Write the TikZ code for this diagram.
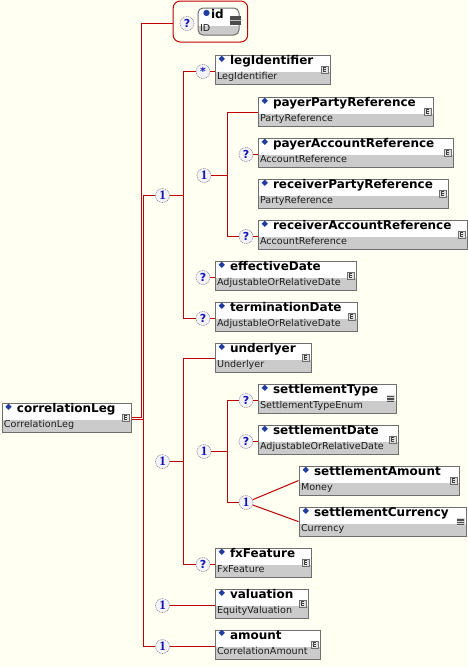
\documentclass[tikz,border=0pt]{standalone}
\usepackage{fontspec}
\setmainfont{DejaVu Sans}
\newfontfamily\occserif{Liberation Serif}
\usepackage{tikz}
\usetikzlibrary{shapes.multipart,fit,calc}
\definecolor{paper}{HTML}{FFFFF2}
\definecolor{wirered}{HTML}{C00000}
\definecolor{boxline}{HTML}{6F6F6F}
\definecolor{boxgray}{HTML}{CBCBCB}
\definecolor{diablue}{HTML}{1F3C9E}
\definecolor{occblue}{HTML}{1414B4}
\definecolor{occline}{HTML}{8A8A9A}
\definecolor{occfill}{HTML}{F4F4F8}
\definecolor{typetext}{HTML}{1E1E1E}
\setlength{\parindent}{0pt}

\newcommand{\tagname}[1]{\fontsize{12}{14}\selectfont\bfseries\rule[-7pt]{0pt}{13pt}%
  \makebox[13pt][l]{\hspace{1.5pt}\raisebox{3.5pt}{\fontsize{8.5}{8.5}\selectfont\mdseries\textcolor{diablue}{◆}}}#1}
\newcommand{\tagtype}[1]{\fontsize{9.6}{11}\selectfont\mdseries\color{typetext}\rule[-4pt]{0pt}{9pt}#1}

\tikzset{
  el_box/.style={rectangle split, rectangle split parts=2,
    rectangle split draw splits=false, rectangle split part fill={white,boxgray},
    draw=boxline, line width=1pt, inner xsep=2pt, inner ysep=0pt,
    text width=#1, align=left, anchor=north west},
  id_box/.style={rectangle split, rectangle split parts=2,
    rectangle split draw splits=false, draw=boxline, fill=boxgray,
    rounded corners=5pt, line width=1pt, inner xsep=2pt, inner ysep=0pt,
    text width=37pt, align=left, anchor=north west,
    path picture={\fill[white,sharp corners] (path picture bounding box.north west)
      rectangle ([yshift=-18pt]path picture bounding box.north east);}},
  grp_box/.style={draw=wirered, line width=1pt, rounded corners=7pt, inner sep=6.5pt},
  occ/.style={circle, draw=occline, fill=occfill, dash pattern=on 1pt off 0.8pt,
    line width=0.6pt, minimum size=14pt, inner sep=0pt, text=occblue,
    font=\fontsize{11}{11}\selectfont\bfseries},
  occ_one/.style={occ, font=\occserif\fontsize{13}{13}\selectfont\bfseries},
  ico_e/.style={draw=boxline, fill=boxgray!60, minimum size=7.5pt, inner sep=0pt,
    line width=0.5pt,
    path picture={\draw[line width=0.5pt,black!75]
      ($(path picture bounding box.center)+(1.6pt,2pt)$) -- ++(-3pt,0) -- ++(0,-4pt) -- ++(3pt,0)
      ($(path picture bounding box.center)+(-1.4pt,0)$) -- ++(2.4pt,0);}},
  ico_enum/.style={fill=boxgray!80, minimum width=8pt, minimum height=8pt, inner sep=0pt,
    path picture={\foreach \k in {-2.6,-0.9,0.8,2.5}
      \draw[line width=0.8pt,black!70] ($(path picture bounding box.center)+(-3.5pt,\k pt)$) -- ++(7pt,0);}},
  ico_eq/.style={fill=black!70, minimum width=11pt, minimum height=9pt, inner sep=0pt,
    path picture={\draw[line width=1.2pt,black!25] (path picture bounding box.west) -- (path picture bounding box.east);}},
  wire/.style={draw=wirered, line width=1pt},
}

\begin{document}
\begin{tikzpicture}[x=1pt, y=-1pt]
  \fill[paper] (0,0) rectangle (467,667);
  \useasboundingbox (0,0) rectangle (467,667);

  % element boxes
  \node[el_box=125pt] (root) at (1.5,402.5) {\tagname{correlationLeg}\nodepart{two}\tagtype{CorrelationLeg}};
  \node[id_box] (id_el) at (197.5,7.5) {\fontsize{12}{14}\selectfont\bfseries\rule[-4pt]{0pt}{14pt}%
    \makebox[11pt][l]{\hspace{3pt}\raisebox{3pt}{\fontsize{8}{8}\selectfont\mdseries\textcolor{diablue}{●}}}id%
    \nodepart{two}\fontsize{9.6}{11}\selectfont\color{typetext}\rule[-3pt]{0pt}{11pt}ID};
  \node[el_box=111pt] (leg_id) at (214.5,54.5) {\tagname{legIdentifier}\nodepart{two}\tagtype{LegIdentifier}};
  \node[el_box=171pt] (pay_party) at (257.5,96.5) {\tagname{payerPartyReference}\nodepart{two}\tagtype{PartyReference}};
  \node[el_box=191pt] (pay_acct) at (257.5,137.5) {\tagname{payerAccountReference}\nodepart{two}\tagtype{AccountReference}};
  \node[el_box=186pt] (rec_party) at (257.5,178.5) {\tagname{receiverPartyReference}\nodepart{two}\tagtype{PartyReference}};
  \node[el_box=205pt] (rec_acct) at (257.5,219.5) {\tagname{receiverAccountReference}\nodepart{two}\tagtype{AccountReference}};
  \node[el_box=137pt] (eff_date) at (214.5,260.5) {\tagname{effectiveDate}\nodepart{two}\tagtype{AdjustableOrRelativeDate}};
  \node[el_box=138pt] (term_date) at (214.5,301.5) {\tagname{terminationDate}\nodepart{two}\tagtype{AdjustableOrRelativeDate}};
  \node[el_box=92pt] (underlyer) at (214.5,342.5) {\tagname{underlyer}\nodepart{two}\tagtype{Underlyer}};
  \node[el_box=134pt] (set_type) at (257.5,383.5) {\tagname{settlementType}\nodepart{two}\tagtype{SettlementTypeEnum}};
  \node[el_box=136pt] (set_date) at (257.5,424.5) {\tagname{settlementDate}\nodepart{two}\tagtype{AdjustableOrRelativeDate}};
  \node[el_box=156pt] (set_amt) at (298.5,465.5) {\tagname{settlementAmount}\nodepart{two}\tagtype{Money}};
  \node[el_box=163pt] (set_cur) at (298.5,506.5) {\tagname{settlementCurrency}\nodepart{two}\tagtype{Currency}};
  \node[el_box=92pt] (fx_feat) at (214.5,547.5) {\tagname{fxFeature}\nodepart{two}\tagtype{FxFeature}};
  \node[el_box=89pt] (valuation) at (214.5,588.5) {\tagname{valuation}\nodepart{two}\tagtype{EquityValuation}};
  \node[el_box=101pt] (amount) at (214.5,629.5) {\tagname{amount}\nodepart{two}\tagtype{CorrelationAmount}};

  % type icons
  \foreach \b in {root,leg_id,pay_party,pay_acct,rec_party,rec_acct,eff_date,term_date,
                  underlyer,set_date,set_amt,fx_feat,valuation,amount}
    \node[ico_e] (\b_i) at ([xshift=-6pt]\b.east) {};
  \node[ico_enum] (set_type_i) at ([xshift=-6pt]set_type.east) {};
  \node[ico_enum] (set_cur_i) at ([xshift=-6pt]set_cur.east) {};
  \node[ico_eq] (id_eq) at ([xshift=-4pt,yshift=1pt]id_el.east) {};

  % occurrence circles
  \node[occ] (q_id) at (187,23.5) {?};
  \node[occ] (q_leg) at (203,71.5) {*};
  \node[occ_one] (c1_a) at (162.5,195.5) {1};
  \node[occ_one] (c2_a) at (204,175.5) {1};
  \node[occ] (q_pay_acct) at (246,154.5) {?};
  \node[occ] (q_rec_acct) at (246,236.5) {?};
  \node[occ] (q_eff) at (203,277.5) {?};
  \node[occ] (q_term) at (203,318.5) {?};
  \node[occ_one] (c1_b) at (162.5,461.5) {1};
  \node[occ_one] (c2_b) at (204,451.5) {1};
  \node[occ] (q_set_type) at (246,400.5) {?};
  \node[occ] (q_set_date) at (246,441.5) {?};
  \node[occ_one] (c3_b) at (246,502.5) {1};
  \node[occ] (q_fx) at (203,564.5) {?};
  \node[occ_one] (c1_v) at (162.5,605.5) {1};
  \node[occ_one] (c1_m) at (162.5,646.5) {1};

  \node[grp_box, fit=(q_id)(id_el)(id_eq)] (id_grp) {};

  % tree lines
  \coordinate (bar_r) at (141.5,0);
  \coordinate (bar_s) at (143.5,0);
  \coordinate (bar_a) at (183.5,0);
  \coordinate (bar_p) at (227.5,0);
  \coordinate (root_up) at ([yshift=0.5pt]root.east);
  \coordinate (root_dn) at ([yshift=-1.5pt]root.east);

  \draw[wire] (root_up) -- (root_up -| bar_r) |- (q_id.west -| id_grp.west);
  \draw[wire] (root_dn) -- (root_dn -| bar_s);
  \draw[wire] (c1_a.west) -- (c1_a.west -| bar_s) |- (c1_m.west);

  \draw[wire] (c1_a.east) -- (c1_a.east -| bar_a);
  \draw[wire] (q_leg.west) -- (q_leg.west -| bar_a) |- (q_term.west);
  \draw[wire] (c2_a.east) -- (c2_a.east -| bar_p);
  \draw[wire] ([yshift=-0.5pt]pay_party.west) -- ([yshift=-0.5pt]pay_party.west -| bar_p) |- (q_rec_acct.west);

  \draw[wire] (c1_b.east) -- (c1_b.east -| bar_a);
  \draw[wire] ([yshift=-0.5pt]underlyer.west) -- ([yshift=-0.5pt]underlyer.west -| bar_a) |- (q_fx.west);
  \draw[wire] (c2_b.east) -- (c2_b.east -| bar_p);
  \draw[wire] (q_set_type.west) -- (q_set_type.west -| bar_p) |- (c3_b.west);
  \draw[wire] (c3_b) -- (set_amt.west);
  \draw[wire] (c3_b) -- (set_cur.west);

  \draw[wire] (q_leg.east) -- (q_leg.east -| leg_id.west);
  \draw[wire] (q_pay_acct.east) -- (q_pay_acct.east -| pay_acct.west);
  \draw[wire] (q_rec_acct.east) -- (q_rec_acct.east -| rec_acct.west);
  \draw[wire] (q_eff.east) -- (q_eff.east -| eff_date.west);
  \draw[wire] (q_term.east) -- (q_term.east -| term_date.west);
  \draw[wire] (q_set_type.east) -- (q_set_type.east -| set_type.west);
  \draw[wire] (q_set_date.east) -- (q_set_date.east -| set_date.west);
  \draw[wire] (q_fx.east) -- (q_fx.east -| fx_feat.west);
  \draw[wire] (c1_v.east) -- (c1_v.east -| valuation.west);
  \draw[wire] (c1_m.east) -- (c1_m.east -| amount.west);
\end{tikzpicture}
\end{document}
